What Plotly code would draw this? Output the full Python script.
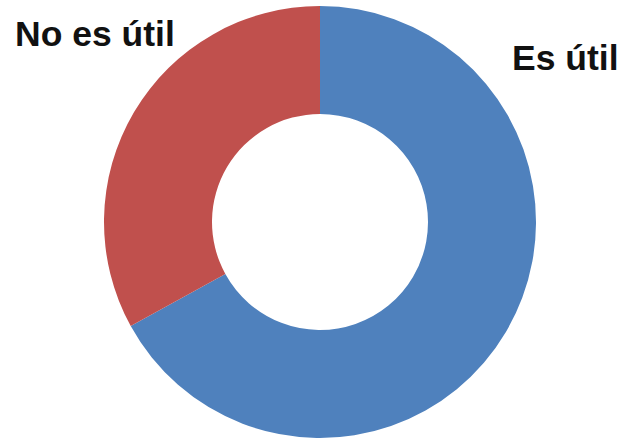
import plotly.graph_objects as go

labels = ["Es útil", "No es útil"]
values = [67, 33]
colors = ["#4F81BD", "#C0504D"]

W, H = 621, 442
cx, cy, r = 320, 222, 216

fig = go.Figure(go.Pie(
    labels=labels,
    values=values,
    hole=0.5,
    sort=False,
    direction="clockwise",
    rotation=0,
    marker=dict(colors=colors, line=dict(width=0)),
    textinfo="none",
    hoverinfo="label+percent",
    domain=dict(x=[(cx - r) / W, (cx + r) / W], y=[1 - (cy + r) / H, 1 - (cy - r) / H]),
    showlegend=False,
))

label_pos = {"No es útil": (13, 34.5), "Es útil": (510, 58.5)}
for lab in labels:
    px, py = label_pos[lab]
    fig.add_annotation(
        text=lab, x=px / W, y=1 - py / H, xref="paper", yref="paper",
        xanchor="left", yanchor="middle", showarrow=False,
        font=dict(family="Liberation Sans, Arial, sans-serif", size=35.5, color="#111111"),
        )

fig.update_layout(
    width=W, height=H,
    margin=dict(l=0, r=0, t=0, b=0),
    paper_bgcolor="white", plot_bgcolor="white",
)
fig.update_annotations(font_weight="bold")
fig.write_html("out.html", config={"displayModeBar": False},
               post_script="document.body.style.margin='0';")
